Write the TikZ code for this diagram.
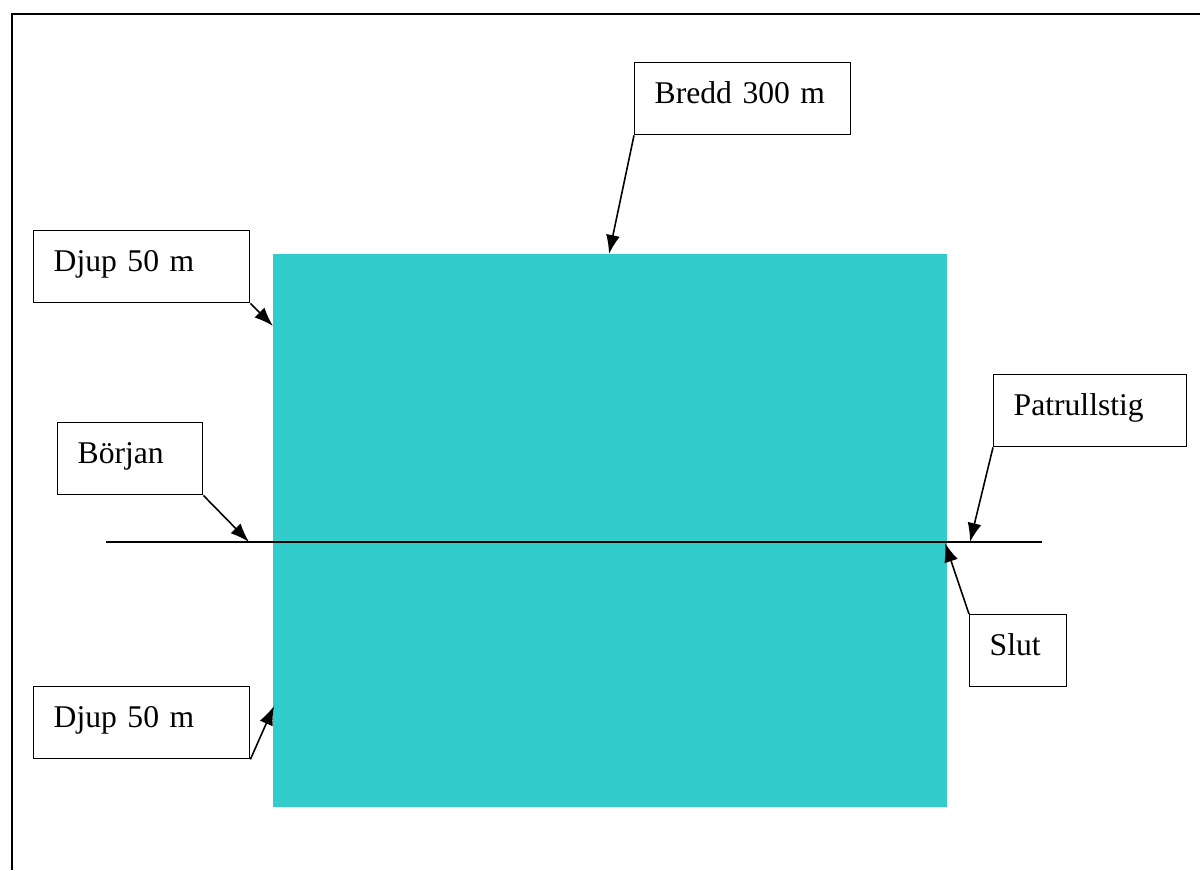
\documentclass[tikz,border=0pt]{standalone}
\usepackage{fontspec}
\setmainfont{Liberation Serif}
\usetikzlibrary{arrows.meta}
\definecolor{poolcyan}{HTML}{33CCCC}

\begin{document}
\begin{tikzpicture}
	  [x=0.02cm,y=-0.02cm,every path/.style={>={Latex[length=3.8mm,width=2.8mm]}},
	   lbl/.style={draw, line width=0.8pt, rectangle, anchor=north west, align=left,
	     inner xsep=0.4cm, inner ysep=0pt, text height=0.82cm, text depth=0.62cm,
	     font=\fontsize{18}{20}\selectfont},
	   pil/.style={->, line width=0.9pt}]
	  \useasboundingbox (0,0) rectangle (1200,870);

	  % ram
	  \draw[line width=1.3pt] (12,870) -- (12,14) -- (1200,14);

	  % bassängen
	  \fill[poolcyan] (273,254) rectangle (947,807);
	  \draw[line width=0.9pt] (106,542) -- (1042,542);

	  \node[lbl, text width=3.52cm] (bredd)  at (634,62)  {Bredd 300 m};
	  \node[lbl, text width=3.52cm] (djup1)  at (33,230)  {Djup 50 m};
	  \node[lbl, text width=2.10cm] (borjan) at (57,422)  {Början};
	  \node[lbl, text width=3.06cm] (stig)   at (993,374) {Patrullstig};
	  \node[lbl, text width=1.14cm] (slut)   at (969,614) {Slut};
	  \node[lbl, text width=3.52cm] (djup2)  at (33,686)  {Djup 50 m};

	  \coordinate (bredd-e)  at (609,254);
	  \coordinate (djup1-e)  at (273,326);
	  \coordinate (borjan-e) at (249,542);
	  \coordinate (stig-e)   at (970,542);
	  \coordinate (slut-e)   at (945,543);
	  \coordinate (djup2-e)  at (274,706);

	  \foreach \from/\to in {bredd.south west/bredd-e,djup1.south east/djup1-e,
	    borjan.south east/borjan-e,stig.south west/stig-e,
	    slut.north west/slut-e,djup2.south east/djup2-e}
	    \draw[pil] (\from) -- (\to);
	\end{tikzpicture}
\end{document}
